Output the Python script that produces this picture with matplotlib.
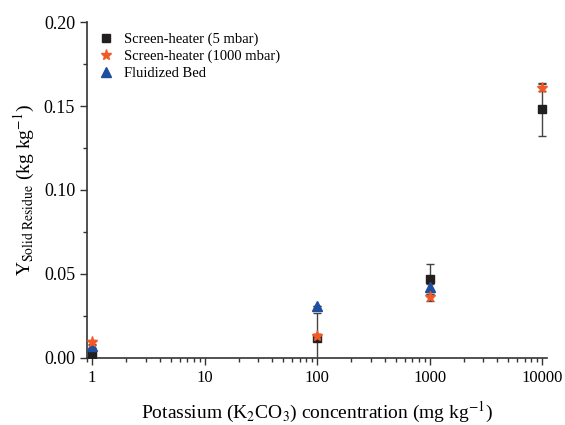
import matplotlib
matplotlib.use("Agg")
import matplotlib.pyplot as plt
from matplotlib.lines import Line2D
from matplotlib.ticker import MultipleLocator, LogLocator, NullFormatter, FixedLocator, FixedFormatter

plt.rcParams['font.family'] = ['Liberation Serif', 'DejaVu Serif']
plt.rcParams['mathtext.fontset'] = 'stix'

# data
conc = [1, 100, 1000, 10000]
sh5 = [0.002, 0.012, 0.047, 0.148]
sh5_err = [0.0, 0.015, 0.009, 0.016]
conc_1000 = [1, 100, 1000, 10000]
sh1000 = [0.0095, 0.013, 0.036, 0.161]
sh1000_err = [0.001, 0.001, 0.002, 0.002]
conc_fb = [1, 100, 1000]
fb = [0.0068, 0.031, 0.042]
fb_err = [0.001, 0.0, 0.002]

x_ticks = [1, 10, 100, 1000, 10000]
x_labels = ["1", "10", "100", "1000", "10000"]

c_sq = '#231f20'
c_star = '#f15a24'
c_tri = '#1f4e9e'

fig = plt.figure(figsize=(5.65, 4.25), dpi=100)
ax = fig.add_axes([0.154, 0.158, 0.814, 0.79])

eb = dict(ecolor='#444444', elinewidth=1, capsize=3, capthick=1, linestyle='none')
ax.errorbar(conc, sh5, yerr=sh5_err, marker='s', color=c_sq, ms=6, zorder=3, **eb)
ax.errorbar(conc_1000, sh1000, yerr=sh1000_err, marker='*', color=c_star, ms=8, zorder=4, **eb)
ax.errorbar(conc_fb, fb, yerr=fb_err, marker='^', color=c_tri, ms=7, zorder=3, **eb)

ax.set_xscale('log')
ax.set_xlim(0.9, 11000)
ax.set_ylim(0, 0.2)
ax.xaxis.set_major_locator(FixedLocator(x_ticks))
ax.xaxis.set_major_formatter(FixedFormatter(x_labels))
ax.xaxis.set_minor_locator(LogLocator(base=10, subs=range(2, 10)))
ax.xaxis.set_minor_formatter(NullFormatter())
ax.yaxis.set_major_locator(MultipleLocator(0.05))
ax.yaxis.set_minor_locator(MultipleLocator(0.025))
ax.yaxis.set_major_formatter(plt.FuncFormatter(lambda v, p: f"{v:.2f}"))

for s in ['top', 'right']:
    ax.spines[s].set_visible(False)
for s in ['left', 'bottom']:
    ax.spines[s].set_color('#333333')
    ax.spines[s].set_linewidth(1.2)

ax.tick_params(axis='both', which='major', direction='out', length=5, width=1, color='#333333')
ax.tick_params(axis='both', which='minor', direction='out', length=3, width=1, color='#333333')
ax.tick_params(axis='y', labelsize=13)
ax.tick_params(axis='x', labelsize=12)

ax.set_xlabel(r'Potassium (K$_2$CO$_3$) concentration (mg kg$^{-1}$)', fontsize=14, labelpad=10)
ax.set_ylabel(r'Y$_{\mathrm{Solid\ Residue}}$ (kg kg$^{-1}$)', fontsize=14, labelpad=5)

handles = [
    Line2D([], [], marker='s', color=c_sq, ls='none', ms=6),
    Line2D([], [], marker='*', color=c_star, ls='none', ms=8),
    Line2D([], [], marker='^', color=c_tri, ls='none', ms=7),
]
labels = ['Screen-heater (5 mbar)', 'Screen-heater (1000 mbar)', 'Fluidized Bed']
ax.legend(handles, labels, loc='upper left', frameon=False, fontsize=10.5, handletextpad=0.5,
          handlelength=1.5, borderaxespad=0.3, labelspacing=0.25, bbox_to_anchor=(-0.005, 1.0))

fig.savefig('out.png', dpi=100)
